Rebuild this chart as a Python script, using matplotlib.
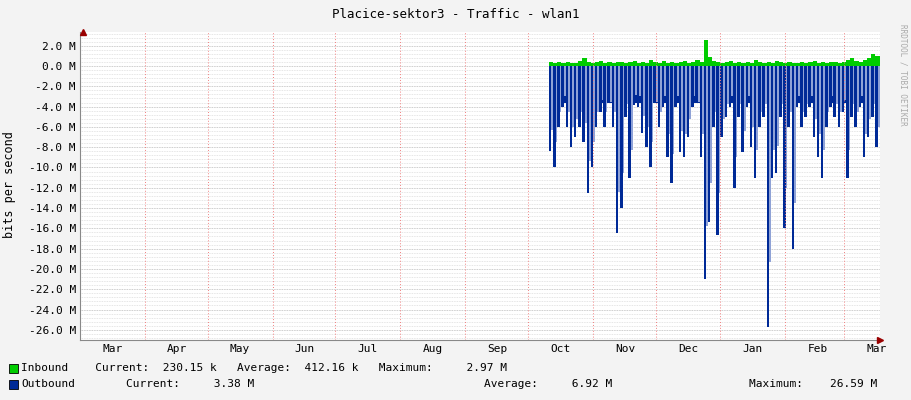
import matplotlib
matplotlib.use("Agg")
import matplotlib.pyplot as plt
import numpy as np

months = ["Mar","Apr","May","Jun","Jul","Aug","Sep","Oct","Nov","Dec","Jan","Feb","Mar"]
month_starts = [0,31,61,92,122,153,184,214,245,275,306,337,365]
data_start_day = 224
step_days = 2
outbound = [-8.4,-10,-6,-4,-6,-8,-7,-6,-7.5,-12.5,-10,-6,-4.5,-6,-3.5,-6,-16.5,-14,-5,-11,
            -3.8,-4,-6.6,-8,-10,-3.5,-6,-4,-9,-11.5,-4,-8.5,-9,-7,-4,-3.5,-9,-21,-15.4,-6,
            -16.7,-7,-5,-4,-12,-5,-8.5,-4,-8,-11,-6,-5,-25.7,-11,-10.5,-5,-16,-6,-18,-4,
            -6,-5,-4,-7,-9,-11,-6,-4,-5,-6,-4.5,-11,-5,-6,-4,-9,-7,-5,-8]
inbound = [0.4,0.3,0.35,0.3,0.4,0.3,0.3,0.5,0.8,0.4,0.3,0.4,0.5,0.3,0.4,0.3,0.35,0.4,0.3,0.4,
           0.5,0.3,0.4,0.3,0.6,0.4,0.3,0.5,0.3,0.4,0.3,0.4,0.5,0.3,0.4,0.6,0.4,2.6,0.9,0.5,
           0.4,0.3,0.4,0.5,0.3,0.4,0.3,0.4,0.3,0.6,0.4,0.3,0.4,0.3,0.5,0.4,0.3,0.4,0.3,0.3,
           0.4,0.3,0.4,0.5,0.3,0.4,0.3,0.4,0.4,0.3,0.4,0.6,0.8,0.5,0.4,0.6,0.8,1.2,1.0]
baseline_out = -3.6

mono = "DejaVu Sans Mono"
plt.rcParams['font.family'] = mono
fig = plt.figure(figsize=(9.11,4.0), dpi=100, facecolor="#F3F3F3")
ax = fig.add_axes([80/911, 1-340/400, 800/911, 308/400])
ax.set_facecolor("white")
days = data_start_day + np.arange(len(outbound))*step_days
x0, x1 = 0, 800/2.093
ax.set_xlim(x0, x1)
ax.set_ylim(-27.0, 3.35)

for v in np.arange(-26.8, 3.3, 0.4):
    ax.axhline(v, color="#DDDDDD", lw=0.6, ls=(0,(1,1)), zorder=0)
for v in range(-26, 3, 2):
    ax.axhline(v, color="#C8C8C8", lw=0.6, ls=(0,(1,1)), zorder=0)
for d in month_starts[1:]:
    ax.axvline(d, color="#F08080", lw=0.7, ls=(0,(1,2)), zorder=3)

blue = "#002A97"
green = "#00CC00"
end = days[-1] + step_days
ax.fill_between([days[0], end], baseline_out, 0, color=blue, lw=0, zorder=2)
ax.bar(days, outbound, width=1.2, align="edge", color=blue, lw=0, zorder=2)
ax.bar(days + 1.2, [(o*0.75 if o < baseline_out else o) for o in outbound], width=0.8, align="edge", color="#8FA2D6", lw=0, zorder=2)
ax.fill_between(np.append(days, end), 0, np.append(inbound, inbound[-1]), step="post", color=green, lw=0, zorder=2)

ax.set_yticks(range(-26, 3, 2))
ax.set_yticklabels([f"{v:.1f} M" for v in range(-26, 3, 2)], fontsize=8)
ax.set_xticks([m + 15.5 for m in month_starts])
ax.set_xticklabels(months, fontsize=8)
ax.tick_params(length=0, pad=3)
for s in ["top","right"]:
    ax.spines[s].set_visible(False)
ax.spines["left"].set_color("#888888")
ax.spines["bottom"].set_color("#888888")
ax.plot([x1], [-27.0], marker=">", color="#990000", ms=5, clip_on=False, zorder=5)
ax.plot([x0+1.4], [3.35], marker="^", color="#990000", ms=4, clip_on=False, zorder=5)

fig.text(0.5, 1-15/400, "Placice-sektor3 - Traffic - wlan1", ha="center", va="center", fontsize=9)
fig.text(10/911, 1-185/400, "bits per second", rotation=90, ha="center", va="center", fontsize=8.5)
fig.text(903/911, 1-75/400, "RRDTOOL / TOBI OETIKER", rotation=270, ha="center", va="center", fontsize=5.5, color="#AAAAAA")

fig.patches.append(plt.Rectangle((9/911, 1-373/400), 9/911, 9/400, transform=fig.transFigure, fc=green, ec="black", lw=0.6))
fig.patches.append(plt.Rectangle((9/911, 1-389/400), 9/911, 9/400, transform=fig.transFigure, fc=blue, ec="black", lw=0.6))
fs = 8
y1 = 1-368/400; y2 = 1-384/400
fig.text(21/911, y1, "Inbound    Current:  230.15 k   Average:  412.16 k   Maximum:     2.97 M", fontsize=fs, va="center")
fig.text(21/911, y2, "Outbound", fontsize=fs, va="center")
fig.text(126/911, y2, "Current:     3.38 M", fontsize=fs, va="center")
fig.text(484/911, y2, "Average:     6.92 M", fontsize=fs, va="center")
fig.text(749/911, y2, "Maximum:    26.59 M", fontsize=fs, va="center")

fig.savefig("out.png", dpi=100, facecolor=fig.get_facecolor())
